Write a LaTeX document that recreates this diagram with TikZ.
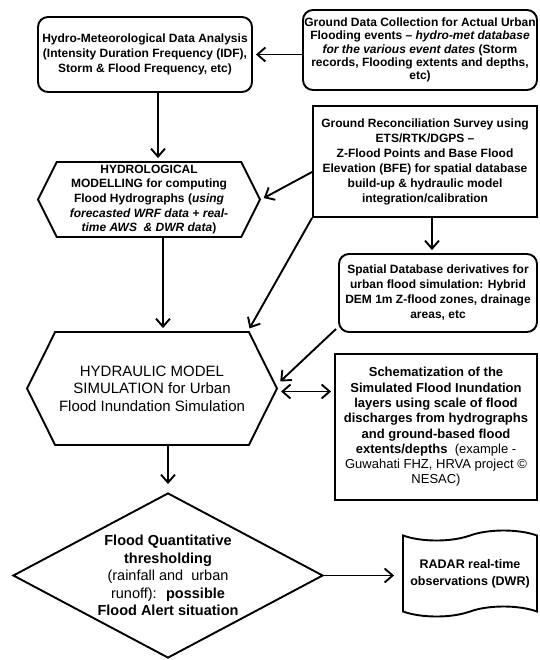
\documentclass[tikz,border=0pt]{standalone}
\usepackage{fontspec}
\setmainfont{Liberation Sans}
\usetikzlibrary{shapes.geometric,shapes.symbols,arrows.meta,calc}
\tikzstyle{myflowstyle}=[
    x=1pt, y=-1pt,
    >={Straight Barb[length=8pt,width=14pt]},
    shorten >=3pt,
    line width=1.9pt,
    every node/.style={
        align=center,
        inner sep=0pt,
    },
]
\tikzstyle{roundbox}=[draw, rounded corners=10pt, font=\fontsize{12}{15}\selectfont\bfseries]
\tikzstyle{squarebox}=[draw, font=\fontsize{12}{15}\selectfont\bfseries]
\tikzstyle{hexbox}=[draw, shape=signal, signal to=east and west, signal pointer angle=127]

\begin{document}
\begin{tikzpicture}[myflowstyle]
    \useasboundingbox (0,0) rectangle (539,660);
    % top row
    \node[roundbox, minimum width=214pt, minimum height=75pt] (hydromet) at (145,54.5)
        {Hydro-Meteorological Data Analysis\\(Intensity Duration Frequency (IDF),\\Storm \& Flood Frequency, etc)};
    \node[roundbox, font=\fontsize{12}{13.2}\selectfont\bfseries, minimum width=234pt, minimum height=80pt] (groundata) at (420,50)
        {Ground Data Collection for Actual Urban\\Flooding events -- \textit{hydro-met database}\\\textit{for the various event dates} (Storm\\records, Flooding extents and depths,\\etc)};
    % middle
    \node[hexbox, font=\fontsize{12}{14.6}\selectfont\bfseries, minimum width=222pt, minimum height=75pt] (hydrol) at (149,199.5)
        {HYDROLOGICAL\\MODELLING for computing\\Flood Hydrographs (\textit{using}\\\textit{forecasted WRF data + real-}\\\textit{time AWS \ \& DWR data})};
    \node[squarebox, minimum width=224pt, minimum height=111pt] (survey) at (425,161.5)
        {Ground Reconciliation Survey using\\ETS/RTK/DGPS --\\Z-Flood Points and Base Flood\\Elevation (BFE) for spatial database\\build-up \& hydraulic model\\integration/calibration};
    \node[roundbox, minimum width=198pt, minimum height=78pt] (spatial) at (438,293)
        {Spatial Database derivatives for\\urban flood simulation: Hybrid\\DEM 1m Z-flood zones, drainage\\areas, etc};
    \node[hexbox, font=\fontsize{15}{17.5}\selectfont, minimum width=250pt, minimum height=113pt] (hydraul) at (152,388.5)
        {HYDRAULIC MODEL\\SIMULATION for Urban\\Flood Inundation Simulation};
    \node[squarebox, font=\fontsize{13}{15.3}\selectfont, minimum width=202pt, minimum height=146pt] (schema) at (436,427)
        {\textbf{Schematization of the}\\\textbf{Simulated Flood Inundation}\\\textbf{layers using scale of flood}\\\textbf{discharges from hydrographs}\\\textbf{and ground-based flood}\\\textbf{extents/depths} \ (example -\\Guwahati FHZ, HRVA project ©\\NESAC)};
    % bottom
    \node[draw, shape=diamond, aspect=1.88, minimum width=310pt, minimum height=165pt, font=\fontsize{14.5}{17.6}\selectfont] (threshold) at (168,575.5)
        {\textbf{Flood Quantitative}\\\textbf{thresholding}\\(rainfall and \ urban\\runoff): \ \textbf{possible}\\\textbf{Flood Alert situation}};
    \node[draw, shape=tape, tape bend height=10pt, minimum width=134pt, minimum height=86pt, font=\fontsize{12.5}{17}\selectfont\bfseries] (radar) at (470,573.5)
        {RADAR real-time\\observations (DWR)};

    % connectors
    \draw[->] (groundata.west |- hydromet.east) -- (hydromet.east);
    \draw[->] ([xshift=13pt]hydromet.south) -- ([xshift=9pt]hydrol.north);
    \draw[->] ([yshift=-10.5pt]survey.west) -- (hydrol.east);
    \draw[->] (survey.south west) -- ($(hydraul.north)+(96,0)$);
    \draw[->] ([xshift=7pt]survey.south) -- ([xshift=-6pt]spatial.north);
    \draw[->] ([shift={(-2pt,4pt)}]spatial.south west) -- ([yshift=5pt]hydraul.east);
    \coordinate (dblend) at ([yshift=-3pt]hydraul.east);
    \draw[<->, shorten <=3pt] (dblend) -- (dblend -| schema.west);
    \draw[->] ([xshift=14pt]hydrol.south) -- ([xshift=11pt]hydraul.north);
    \draw[->, shorten >=8pt] (hydraul.south -| threshold.north) -- (threshold.north);
    \draw[->, shorten >=8pt] (threshold.east) -- (threshold.east -| radar.west);
\end{tikzpicture}
\end{document}
